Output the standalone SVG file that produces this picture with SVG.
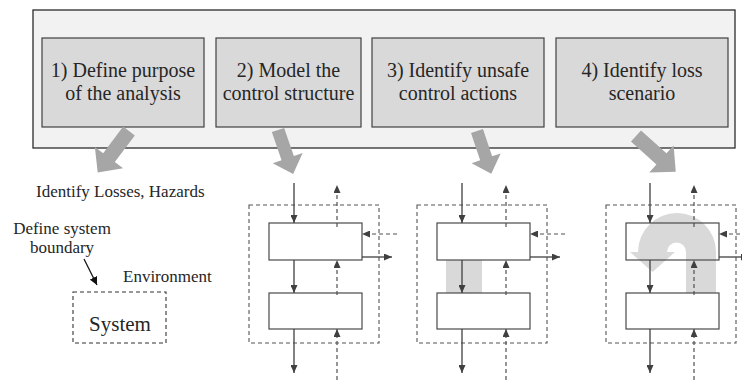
<svg xmlns="http://www.w3.org/2000/svg" width="742" height="380" viewBox="0 0 742 380">
  <defs>
    <style>
      .serif { font-family: "Liberation Serif", "Tinos", "Times New Roman", "DejaVu Serif", serif; }
      .frame { fill: #f2f2f2; stroke: #2b2b2b; stroke-width: 1.3; }
      .step { fill: #d9d9d9; stroke: #404040; stroke-width: 1.2; }
      .step-label { font-size: 20px; fill: #262626; text-anchor: middle; }
      .note { font-size: 17px; fill: #262626; }
      .big-arrow { fill: #a6a6a6; }
      .boundary { fill: none; stroke: #555; stroke-width: 1.1; stroke-dasharray: 4 3; }
      .block { fill: none; stroke: #4a4a4a; stroke-width: 1.2; }
      .flow { fill: none; stroke: #404040; stroke-width: 1.3; marker-end: url(#head); }
      .feedback { fill: none; stroke: #505050; stroke-width: 1.2; stroke-dasharray: 4 3; marker-end: url(#head); }
      .highlight { fill: #d9d9d9; }
    </style>
    <marker id="head" viewBox="0 0 8 7" refX="8" refY="3.5" markerWidth="8" markerHeight="7" markerUnits="userSpaceOnUse" orient="auto">
      <path d="M0,0 L8,3.5 L0,7 z" fill="#404040"/>
    </marker>
    <marker id="thin-head" viewBox="0 0 8 8" refX="8" refY="4" markerWidth="8" markerHeight="8" markerUnits="userSpaceOnUse" orient="auto">
      <path d="M0,0 L8,4 L0,8 z" fill="#111"/>
    </marker>
    <!-- wide block arrow pointing along +x, length 50 -->
    <path id="block-arrow" d="M0,-7 L32,-7 L32,-17 L50,0 L32,17 L32,7 L0,7 z"/>
  </defs>

  <!-- process frame -->
  <rect class="frame" x="33" y="10" width="702" height="138"/>

  <g id="step1" class="serif">
    <rect class="step" x="42" y="38" width="162" height="89"/>
    <text class="step-label" x="123" y="77">1) Define purpose</text>
    <text class="step-label" x="123" y="100">of the analysis</text>
  </g>
  <g id="step2" class="serif">
    <rect class="step" x="216" y="38" width="145" height="89"/>
    <text class="step-label" x="288.5" y="77">2) Model the</text>
    <text class="step-label" x="288.5" y="100">control structure</text>
  </g>
  <g id="step3" class="serif">
    <rect class="step" x="372" y="38" width="172" height="89"/>
    <text class="step-label" x="458" y="77">3) Identify unsafe</text>
    <text class="step-label" x="458" y="100">control actions</text>
  </g>
  <g id="step4" class="serif">
    <rect class="step" x="556" y="38" width="172" height="89"/>
    <text class="step-label" x="642" y="77">4) Identify loss</text>
    <text class="step-label" x="642" y="100">scenario</text>
  </g>

  <!-- block arrows from each step to its outcome -->
  <g id="step-arrows" class="big-arrow">
    <use href="#block-arrow" transform="translate(129,131) rotate(127) scale(1.04)"/>
    <use href="#block-arrow" transform="translate(278,130) rotate(71) scale(0.93)"/>
    <use href="#block-arrow" transform="translate(477,131) rotate(71.5) scale(0.9)"/>
    <use href="#block-arrow" transform="translate(636,136) rotate(42) scale(1.07)"/>
  </g>

  <!-- outcome 1: losses, hazards and system boundary -->
  <g id="outcome1" class="serif">
    <text class="note" x="36" y="197">Identify Losses, Hazards</text>
    <text class="note" x="62" y="234" text-anchor="middle">Define system</text>
    <text class="note" x="62" y="253" text-anchor="middle">boundary</text>
    <text class="note" x="123" y="282">Environment</text>
    <line x1="84" y1="259" x2="97" y2="285" stroke="#111" stroke-width="1.2" marker-end="url(#thin-head)"/>
  </g>
  <g id="system" class="serif">
    <rect class="boundary" x="73" y="292" width="93" height="51" style="stroke:#333"/>
    <text x="120" y="331" font-size="21" fill="#262626" text-anchor="middle">System</text>
  </g>

  <!-- outcome 3: highlighted control action -->
  <rect id="uca-highlight" class="highlight" x="446" y="260" width="36" height="33"/>

  <!-- outcome 4: loss scenario loop -->
  <path id="scenario-loop" class="highlight" d="M716,293 L716,252 A39,39 0 0 0 638,252 L630,252 L652.5,272 L675,252 L667,252 A9.5,9.5 0 0 1 686,252 L686,293 z"/>

  <!-- control structure panels -->
  <g id="panel2">
    <rect class="boundary" x="249" y="205" width="130" height="138"/>
    <g id="controller2"><rect class="block" x="269" y="223" width="93" height="37"/></g>
    <g id="process2"><rect class="block" x="269" y="293" width="93" height="36"/></g>
  </g>
  <g id="panel3">
    <rect class="boundary" x="417" y="205" width="130" height="138"/>
    <g id="controller3"><rect class="block" x="437" y="223" width="93" height="37"/></g>
    <g id="process3"><rect class="block" x="437" y="293" width="93" height="36"/></g>
  </g>
  <g id="panel4">
    <rect class="boundary" x="606" y="205" width="130" height="138"/>
    <g id="controller4"><rect class="block" x="626" y="223" width="93" height="37"/></g>
    <g id="process4"><rect class="block" x="626" y="293" width="93" height="36"/></g>
  </g>

  <!-- connectors: control actions (solid) and feedback (dashed) -->
  <g id="connectors">
    <g id="links2">
      <line class="flow" x1="294" y1="183" x2="294" y2="223"/>
      <line class="flow" x1="294" y1="260" x2="294" y2="293"/>
      <line class="flow" x1="294" y1="329" x2="294" y2="373"/>
      <line class="feedback" x1="337" y1="227" x2="337" y2="185"/>
      <line class="feedback" x1="337" y1="295" x2="337" y2="260"/>
      <line class="feedback" x1="337" y1="380" x2="337" y2="329"/>
      <line class="feedback" x1="397" y1="234" x2="362" y2="234"/>
      <line class="flow" x1="362" y1="257" x2="392" y2="257"/>
    </g>
    <g id="links3">
      <line class="flow" x1="462" y1="183" x2="462" y2="223"/>
      <line class="flow" x1="462" y1="260" x2="462" y2="293"/>
      <line class="flow" x1="462" y1="329" x2="462" y2="373"/>
      <line class="feedback" x1="506" y1="227" x2="506" y2="185"/>
      <line class="feedback" x1="506" y1="295" x2="506" y2="260"/>
      <line class="feedback" x1="506" y1="380" x2="506" y2="329"/>
      <line class="feedback" x1="565" y1="234" x2="530" y2="234"/>
      <line class="flow" x1="530" y1="257" x2="560" y2="257"/>
    </g>
    <g id="links4">
      <line class="flow" x1="650" y1="183" x2="650" y2="223"/>
      <line class="flow" x1="650" y1="260" x2="650" y2="293"/>
      <line class="flow" x1="650" y1="329" x2="650" y2="373"/>
      <line class="feedback" x1="694" y1="227" x2="694" y2="185"/>
      <line class="feedback" x1="694" y1="295" x2="694" y2="260"/>
      <line class="feedback" x1="694" y1="380" x2="694" y2="329"/>
      <line class="feedback" x1="754" y1="234" x2="719" y2="234"/>
      <line class="flow" x1="719" y1="257" x2="749" y2="257"/>
    </g>
  </g>
</svg>
